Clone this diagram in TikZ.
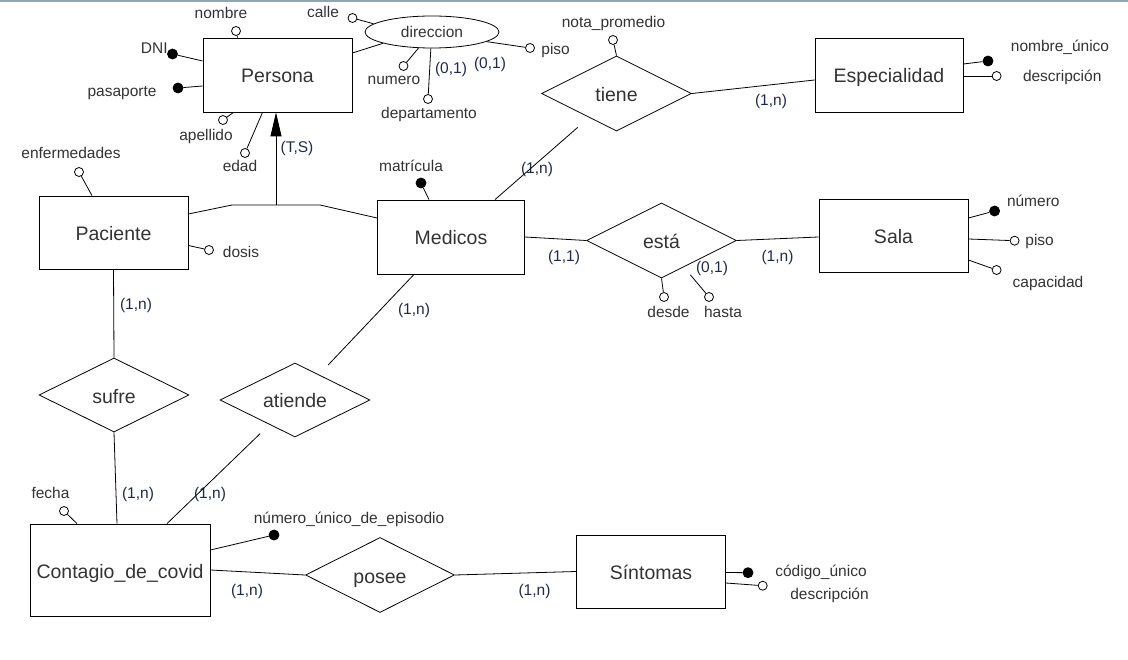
\documentclass[tikz,border=0pt]{standalone}
\usepackage{fontspec}
\setmainfont{Liberation Sans}
\usetikzlibrary{shapes.geometric,arrows.meta}
\definecolor{txtgray}{HTML}{333333}
\definecolor{cardblue}{HTML}{1F2A4A}
\definecolor{framebar}{HTML}{8FA3BA}
\tikzset{
  entity/.style      = {shape=rectangle, draw, minimum width=149pt,
                        minimum height=74pt, inner sep=0pt, text=txtgray,
                        font=\fontsize{19.5}{22}\selectfont,
                        text height=17pt, text depth=1pt},
  relation/.style    = {shape=diamond, aspect=2, draw, minimum width=150pt,
                        minimum height=75pt, inner sep=0pt, text=txtgray,
                        font=\fontsize{19.5}{22}\selectfont,
                        text height=17pt, text depth=1pt},
  multivalued/.style = {shape=ellipse, draw, minimum width=134pt,
                        minimum height=32pt, inner sep=0pt, text=txtgray,
                        font=\fontsize{15.5}{18}\selectfont,
                        text height=13pt, text depth=1pt},
  attr/.style        = {shape=circle, draw, fill=white, minimum size=9pt, inner sep=0pt},
  keyattr/.style     = {attr, fill=black, minimum size=10pt},
  lbl/.style         = {font=\fontsize{15.5}{18}\selectfont, text=txtgray,
                        inner sep=0pt, text height=13pt, text depth=1pt},
  card/.style        = {lbl, text=cardblue}
}

\begin{document}
\begin{tikzpicture}[x=1pt, y=-1pt, line width=0.8pt]
  \useasboundingbox (0,0) rectangle (1128,660);
  \fill[framebar] (0,0) rectangle (1128,2);

  % entidades
  \node[entity] (persona) at (277.5,75) {Persona};
  \node[entity, minimum width=148pt] (especialidad) at (889,75) {Especialidad};
  \node[entity, minimum height=73pt] (paciente) at (113.5,232.5) {Paciente};
  \node[entity, minimum width=147pt] (medicos) at (451,237) {Medicos};
  \node[entity, minimum height=73pt] (sala) at (893.5,235.5) {Sala};
  \node[entity, minimum width=180pt, minimum height=92pt] (contagio) at (120,570) {Contagio\_de\_covid};
  \node[entity, minimum height=73pt] (sintomas) at (651,571.5) {Síntomas};

  % relaciones
  \node[relation] (tiene) at (616.5,93.5) {tiene};
  \node[relation] (esta) at (661.5,240.5) {está};
  \node[relation, minimum height=74pt] (sufre) at (114,395) {sufre};
  \node[relation, minimum height=74pt] (atiende) at (295,400) {atiende};
  \node[relation, minimum width=149pt] (posee) at (380,575) {posee};

  \node[multivalued] (direccion) at (432,32) {direccion};

  % atributos de Persona
  \node[attr] (nombre) at (236,31) {};
  \node[lbl] (nombretxt) at (221,13) {nombre};
  \node[keyattr] (dni) at (172.5,54) {};
  \node[lbl, anchor=east] (dnitxt) at (168,48) {DNI};
  \node[keyattr] (pasaporte) at (178,88) {};
  \node[lbl] (pasaportetxt) at (122,91) {pasaporte};
  \node[attr] (apellido) at (223,120) {};
  \node[lbl] (apellidotxt) at (206,135) {apellido};
  \node[attr] (edad) at (245,153) {};
  \node[lbl] (edadtxt) at (240,166) {edad};

  % atributos de direccion
  \node[attr] (calle) at (352.5,18) {};
  \node[lbl] (calletxt) at (323,12) {calle};
  \node[attr] (pisodir) at (530,48) {};
  \node[lbl, anchor=west] (pisodirtxt) at (541,49) {piso};
  \node[attr] (numero) at (403.5,66) {};
  \node[lbl] (numerotxt) at (394,79) {numero};
  \node[attr] (departamento) at (428,99) {};
  \node[lbl] (departamentotxt) at (429,113) {departamento};
  \node[card] (cdep) at (451,68) {(0,1)};
  \node[card] (cpiso) at (490,63) {(0,1)};

  \node[attr] (nota) at (613,40) {};
  \node[lbl] (notatxt) at (613.5,22) {nota\_promedio};

  \node[keyattr] (nombreunico) at (988,61) {};
  \node[lbl] (nombreunicotxt) at (1060,46) {nombre\_único};
  \node[attr] (descesp) at (996.6,76) {};
  \node[lbl, anchor=west] (descesptxt) at (1022.6,76) {descripción};

  \node[keyattr] (matricula) at (421,183) {};
  \node[lbl] (matriculatxt) at (411,166) {matrícula};

  \node[attr] (enfermedades) at (79,172) {};
  \node[lbl] (enfermedadestxt) at (71,153) {enfermedades};
  \node[attr] (dosis) at (209,250) {};
  \node[lbl] (dosistxt) at (241,252) {dosis};

  \node[keyattr] (numsala) at (994.6,211) {};
  \node[lbl, anchor=west] (numsalatxt) at (1006.6,200.7) {número};
  \node[attr] (pisosala) at (1014.6,240.7) {};
  \node[lbl, anchor=west] (pisosalatxt) at (1025,240) {piso};
  \node[attr] (capacidad) at (996.6,270) {};
  \node[lbl] (capacidadtxt) at (1048,281.7) {capacidad};

  \node[attr] (desde) at (664,297) {};
  \node[lbl] (desdetxt) at (668.5,312) {desde};
  \node[attr] (hasta) at (709,297) {};
  \node[lbl] (hastatxt) at (723,312) {hasta};
  \node[card] (chasta) at (712,267) {(0,1)};

  \node[attr] (fecha) at (64,511) {};
  \node[lbl] (fechatxt) at (50.5,492) {fecha};
  \node[keyattr] (episodio) at (274,535) {};
  \node[lbl] (episodiotxt) at (349,517) {número\_único\_de\_episodio};

  \node[keyattr] (codigo) at (748,572.7) {};
  \node[lbl] (codigotxt) at (821,570.7) {código\_único};
  \node[attr] (descsin) at (762.7,585.7) {};
  \node[lbl] (descsintxt) at (829.5,593) {descripción};

  % cardinalidades
  \node[card] (cts) at (297,147) {(T,S)};
  \node[card] (c1) at (771,100) {(1,n)};
  \node[card] (c2) at (537,168) {(1,n)};
  \node[card] (c3) at (564,256) {(1,1)};
  \node[card] (c4) at (777.5,256) {(1,n)};
  \node[card] (c5) at (136,304) {(1,n)};
  \node[card] (c6) at (414,309) {(1,n)};
  \node[card] (c7) at (138,492) {(1,n)};
  \node[card] (c8) at (210,492) {(1,n)};
  \node[card] (c9) at (247,589) {(1,n)};
  \node[card] (c10) at (534.5,589) {(1,n)};

  % lineas
  \draw (nombre) -- ([xshift=-40pt]persona.north);
  \draw (dni) -- ([yshift=14pt]persona.west);
  \draw (pasaporte) -- ([yshift=-11pt]persona.west);
  \draw (apellido) -- ([xshift=-44pt]persona.south);
  \draw (edad) -- ([xshift=-15pt]persona.south);
  \draw ([yshift=22pt]persona.east) -- (direccion.193);
  \draw (calle) -- (direccion.172);
  \draw (pisodir) -- (direccion.-10);
  \draw (numero) -- (direccion.-130);
  \draw (departamento) -- (direccion.-94);

  \draw (nota) -- (tiene.north);
  \draw (tiene.east) -- ([yshift=-5pt]especialidad.west);
  \draw (nombreunico) -- ([yshift=11pt]especialidad.east);
  \draw (descesp) -- ([yshift=-1pt]especialidad.east);
  \draw[shorten >=15pt] ([xshift=44pt]medicos.north) -- (tiene);
  \draw (matricula) -- ([xshift=-22pt]medicos.north);

  \draw (medicos.east) -- (esta.west);
  \draw (esta.east) -- ([yshift=-1.5pt]sala.west);
  \draw (numsala) -- ([yshift=17.5pt]sala.east);
  \draw (pisosala) -- ([yshift=-3.5pt]sala.east);
  \draw (capacidad) -- ([yshift=-24.5pt]sala.east);
  \draw (desde) -- (esta.south);
  \draw[shorten >=10pt] (hasta) -- (esta);

  \draw (enfermedades) -- ([xshift=-21.5pt]paciente.north);
  \draw (dosis) -- ([yshift=-13pt]paciente.east);

  % generalizacion
  \coordinate (isal) at (232,205);
  \coordinate (isam) at (276,205);
  \coordinate (isar) at (320,205);
  \draw ([yshift=18.5pt]paciente.east) -- (isal) -- (isar) -- ([yshift=19pt]medicos.west);
  \draw[-{Triangle[length=24pt,width=11pt]}] (isam) -- ([xshift=-1.5pt]persona.south);

  \draw (paciente.south) -- (sufre.north);
  \draw[shorten >=13pt] ([xshift=-37pt]medicos.south) -- (atiende);
  \draw (sufre.south) -- ([xshift=-3pt]contagio.north);
  \draw[shorten <=13pt] (atiende) -- ([xshift=47pt]contagio.north);

  \draw (fecha) -- ([xshift=-43pt]contagio.north);
  \draw (episodio) -- ([yshift=20pt]contagio.east);
  \draw (contagio.east) -- (posee.west);
  \draw (posee.east) -- (sintomas.west);
  \draw (codigo) -- ([yshift=-1pt]sintomas.east);
  \draw (descsin) -- ([yshift=-11.5pt]sintomas.east);
\end{tikzpicture}
\end{document}
